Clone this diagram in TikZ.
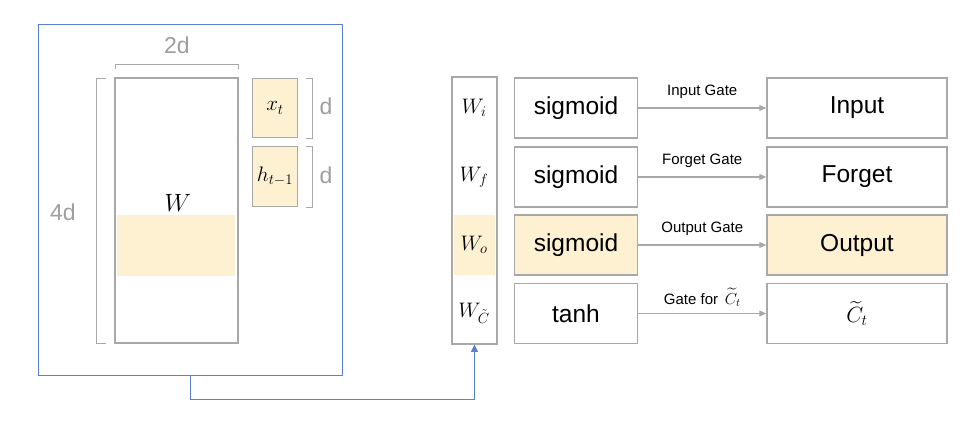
\RequirePackage{fix-cm}
\documentclass[tikz,border=0pt]{standalone}
\usepackage{amsmath}
\usepackage{fontspec}
\setmainfont{Liberation Sans}
\usetikzlibrary{arrows.meta}
\definecolor{boxgray}{HTML}{A8A8A8}
\definecolor{lblgray}{HTML}{9E9E9E}
\definecolor{hlyellow}{HTML}{FDF1D2}
\definecolor{linkblue}{HTML}{5B7FCF}
\tikzset{
  x=1pt, y=-1pt,
  gbox/.style={draw=boxgray, line width=1.5pt, inner sep=0pt},
  brk/.style={draw=boxgray, line width=0.9pt},
  dimlbl/.style={text=lblgray, font=\fontsize{23}{24}\selectfont},
  gatelbl/.style={font=\fontsize{15}{16}\selectfont},
  boxtxt/.style={font=\fontsize{24.5}{26}\selectfont},
  wlbl/.style={font=\fontsize{21}{22}\selectfont},
  vecbox/.style={gbox, fill=hlyellow, minimum width=45pt, font=\fontsize{21}{22}\selectfont},
  flow/.style={draw=boxgray, line width=1.2pt, -{Triangle[length=7pt,width=6pt]}},
}
\begin{document}
\begin{tikzpicture}
\useasboundingbox (0,0) rectangle (966,424);
\fill[white] (0,0) rectangle (966,424);

% --- left panel: weight matrix and inputs
\draw[linkblue, line width=1pt] (38,24) rectangle (342,375);
\coordinate (panelbot) at (190,375);
\fill[hlyellow] (117,215) rectangle (235,276);
\draw[gbox] (115,78) rectangle (238,343);
\node[font=\fontsize{25}{26}\selectfont] (W) at (178,203) {$W$};

% dimension brackets
\draw[brk] (115,69) -- (115,64) -- (238,64) -- (238,69);
\node[dimlbl] (twod) at (177,45) {2d};
\draw[brk] (106,78) -- (96,78) -- (96,343) -- (106,343);
\node[dimlbl] (fourd) at (63,212) {4d};

\node[vecbox, minimum height=59pt] (xt) at (275,108) {$x_t$};
\node[vecbox, minimum height=60pt] (ht) at (275,176.5) {$h_{t-1}$};
\draw[brk] (306,78) -- (312,78) -- (312,138) -- (306,138);
\draw[brk] (306,146) -- (312,146) -- (312,207) -- (306,207);
\node[dimlbl] (d1) at (326,106) {d};
\node[dimlbl] (d2) at (326,175) {d};

% --- right panel: stacked gate weights
\fill[hlyellow] (454,215) rectangle (495,275);
\node[gbox, minimum width=45pt, minimum height=267pt] (Wcol) at (474.5,210.5) {};
\node[wlbl] (Wi) at (474,108) {$W_i$};
\node[wlbl] (Wf) at (474,177) {$W_f$};
\node[wlbl] (Wo) at (474,245) {$W_o$};
\node[wlbl] (Wc) at (474,313) {$W_{\tilde{C}}$};

% activations
\node[gbox, minimum width=123pt, minimum height=60pt] (s1) at (576,108) {};
\node[boxtxt] at (s1) {sigmoid};
\node[gbox, minimum width=123pt, minimum height=60pt] (s2) at (576,177) {};
\node[boxtxt] at (s2) {sigmoid};
\node[gbox, fill=hlyellow, minimum width=123pt, minimum height=60pt] (s3) at (576,245) {};
\node[boxtxt] at (s3) {sigmoid};
\node[gbox, minimum width=123pt, minimum height=60pt] (s4) at (576,313.5) {};
\node[boxtxt] at (s4) {tanh};

% gate outputs
\node[gbox, minimum width=180pt, minimum height=60pt] (o1) at (857,108) {};
\node[boxtxt] at (o1) {Input};
\node[gbox, minimum width=180pt, minimum height=60pt] (o2) at (857,177) {};
\node[boxtxt] at (o2) {Forget};
\node[gbox, fill=hlyellow, minimum width=180pt, minimum height=60pt] (o3) at (857,245) {};
\node[boxtxt] at (o3) {Output};
\node[gbox, minimum width=180pt, minimum height=60pt] (o4) at (857,313.5) {};
\node[font=\fontsize{22}{24}\selectfont] at (o4) {$\widetilde{C}_t$};

% gate connectors
\draw[flow] (s1.east) -- node[gatelbl, above=5pt] {Input Gate} (o1.west);
\draw[flow] (s2.east) -- node[gatelbl, above=5pt] {Forget Gate} (o2.west);
\draw[flow] (s3.east) -- node[gatelbl, above=5pt] {Output Gate} (o3.west);
\draw[flow] (s4.east) -- node[gatelbl, above=3pt] {Gate for \,{\fontsize{16}{17}\selectfont$\widetilde{C}_t$}} (o4.west);

% link from the weight matrix to the stacked weights
\draw[linkblue, line width=1pt, -{Triangle[length=7pt,width=7pt]}]
  (panelbot) -- (190,399) -| (Wcol.south);
\end{tikzpicture}
\end{document}
